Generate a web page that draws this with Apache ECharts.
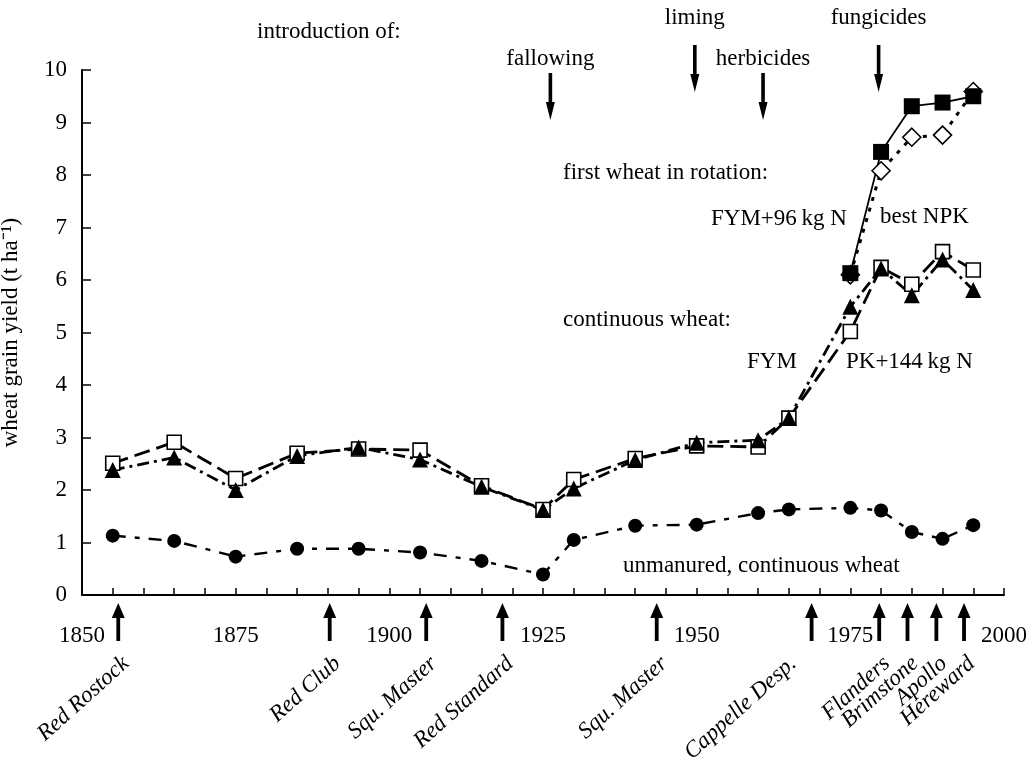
<!DOCTYPE html>
<html>
<head>
<meta charset="utf-8">
<script src="https://cdn.jsdelivr.net/npm/echarts@6/dist/echarts.min.js"></script>
<style>
  html, body { margin: 0; padding: 0; background: #fff; }
  #chart { width: 1031px; height: 764px; }
</style>
</head>
<body>
<div id="chart"></div>
<script>
// Broadbalk wheat yields — decade means
const years = [1855, 1865, 1875, 1885, 1895, 1905, 1915, 1925, 1930, 1940, 1950, 1960, 1965, 1975, 1980, 1985, 1990, 1995];
const unmanured = [1.13, 1.03, 0.73, 0.88, 0.88, 0.81, 0.65, 0.39, 1.05, 1.32, 1.34, 1.56, 1.63, 1.66, 1.61, 1.20, 1.07, 1.33];
const fymContinuous = [2.51, 2.91, 2.22, 2.70, 2.78, 2.76, 2.08, 1.63, 2.20, 2.60, 2.84, 2.82, 3.37, 5.02, 6.24, 5.92, 6.54, 6.19];
const pk144Continuous = [2.38, 2.62, 2.00, 2.65, 2.81, 2.58, 2.06, 1.62, 2.03, 2.57, 2.90, 2.95, 3.37, 5.49, 6.22, 5.71, 6.39, 5.81];

const rotationYears = [1975, 1980, 1985, 1990, 1995];
const fym96Rotation = [6.13, 8.44, 9.31, 9.38, 9.50];
const bestNpkRotation = [6.10, 8.08, 8.72, 8.76, 9.59];

// introductions (top) and varieties (bottom)
const practiceYears = [1926.2, 1949.7, 1960.8, 1979.6];
const practiceNames = ["fallowing", "liming", "herbicides", "fungicides"];
const varietyYears = [1855.9, 1890.3, 1906, 1918.4, 1943.5, 1968.7, 1979.7, 1984.3, 1989, 1993.5];
const varietyNames = ["Red Rostock", "Red Club", "Squ. Master", "Red Standard", "Squ. Master", "Cappelle Desp.", "Flanders", "Brimstone", "Apollo", "Hereward"];

const yTicks = [0, 1, 2, 3, 4, 5, 6, 7, 8, 9, 10];
const xLabelYears = [1850, 1875, 1900, 1925, 1950, 1975, 2000];

const FONT = '"Liberation Serif", "Times New Roman", serif';
const FS = 23;
const pair = (xs, ys) => xs.map((x, i) => [x, ys[i]]);

const chart = echarts.init(document.getElementById("chart"), null, { renderer: "canvas" });

// filled arrow, tip at (x, tip), tail at (x, tail)
function arrow(x, tail, tip, headW, headH, shaft) {
  const d = tip > tail ? 1 : -1;
  const base = tip - d * headH;
  return {
    type: "polygon",
    shape: { points: [[x, tip], [x + headW / 2, base], [x + shaft / 2, base], [x + shaft / 2, tail], [x - shaft / 2, tail], [x - shaft / 2, base], [x - headW / 2, base]] },
    style: { fill: "#000" }
  };
}

function label(text, x, y) {
  return { type: "text", x: x, y: y, style: { text: text, font: FS + "px " + FONT, fill: "#000", align: "left", verticalAlign: "middle" } };
}

const option = {
  animation: false,
  backgroundColor: "#fff",
  textStyle: { fontFamily: FONT, color: "#000" },
  grid: { left: 82, right: 27, top: 70, bottom: 169, outerBoundsMode: "none", containLabel: false },
  xAxis: {
    type: "value",
    min: 1850, max: 2000, interval: 5,
    axisLine: { lineStyle: { color: "#000", width: 2 } },
    axisTick: { inside: true, length: 7, lineStyle: { color: "#000", width: 1.5 } },
    splitLine: { show: false },
    axisLabel: {
      fontFamily: FONT, fontSize: FS, color: "#000", margin: 29,
      formatter: (v) => (xLabelYears.includes(v) ? String(v) : "")
    }
  },
  yAxis: {
    type: "value",
    min: yTicks[0], max: yTicks[yTicks.length - 1], interval: 1,
    name: "wheat grain yield (t ha\u207B\u00B9)",
    nameLocation: "middle", nameRotate: 90, nameGap: 60,
    nameTextStyle: { fontFamily: FONT, fontSize: 23, color: "#000" },
    axisLine: { show: true, lineStyle: { color: "#000", width: 2 } },
    axisTick: { show: true, inside: true, length: 9, lineStyle: { color: "#000", width: 1.5 } },
    splitLine: { show: false },
    axisLabel: { fontFamily: FONT, fontSize: FS, color: "#000", margin: 15 }
  },
  series: [
    {
      name: "unmanured", type: "line", data: pair(years, unmanured),
      symbol: "circle", symbolSize: 14,
      itemStyle: { color: "#000" },
      lineStyle: { color: "#000", width: 2.4, type: [13, 9, 5, 9] }
    },
    {
      name: "FYM", type: "line", data: pair(years, fymContinuous),
      symbol: "rect", symbolSize: 14,
      itemStyle: { color: "#fff", borderColor: "#000", borderWidth: 1.6 },
      lineStyle: { color: "#000", width: 2.8, type: [16, 7] }
    },
    {
      name: "PK+144 kg N", type: "line", data: pair(years, pk144Continuous),
      symbol: "triangle", symbolSize: 16,
      itemStyle: { color: "#000" },
      lineStyle: { color: "#000", width: 2.8, type: [12, 5, 3, 5] }
    },
    {
      name: "best NPK", type: "line", data: pair(rotationYears, bestNpkRotation),
      symbol: "diamond", symbolSize: 18,
      itemStyle: { color: "#fff", borderColor: "#000", borderWidth: 1.6 },
      lineStyle: { color: "#000", width: 3, type: [4, 7] }
    },
    {
      name: "FYM+96 kg N", type: "line", data: pair(rotationYears, fym96Rotation),
      symbol: "rect", symbolSize: 16,
      itemStyle: { color: "#000" },
      lineStyle: { color: "#000", width: 1.8, type: "solid" }
    },
    {
      name: "practices", type: "custom", silent: true, clip: false,
      data: practiceYears.map((y, i) => [y, i]),
      renderItem: (params, api) => {
        const i = params.dataIndex;
        const x = api.coord([api.value(0), 10])[0];
        const top = api.coord([1850, 10])[1];
        const high = i % 2 === 1;
        const tail = high ? top - 25 : top + 3;
        const tip = high ? top + 22 : top + 50;
        const labelY = high ? top - 52 : top - 11;
        return {
          type: "group",
          children: [
            arrow(x, tail, tip, 9, 18, 3.6),
            { type: "text", x: x, y: labelY, style: { text: practiceNames[i], font: FS + "px " + FONT, fill: "#000", align: "center", verticalAlign: "middle" } }
          ]
        };
      }
    },
    {
      name: "varieties", type: "custom", silent: true, clip: false,
      data: varietyYears.map((y, i) => [y, i]),
      renderItem: (params, api) => {
        const i = params.dataIndex;
        const x = api.coord([api.value(0), 0])[0];
        const axisY = api.coord([1850, 0])[1];
        const shift = varietyNames[i] === "Cappelle Desp." ? -26 : 0;
        return {
          type: "group",
          children: [
            arrow(x, axisY + 46, axisY + 8, 13, 15, 3.8),
            {
              type: "text", x: x + shift, y: axisY + 57, rotation: 42 * Math.PI / 180,
              style: { text: varietyNames[i], font: "italic " + FS + "px " + FONT, fill: "#000", align: "right", verticalAlign: "top" }
            }
          ]
        };
      }
    }
  ],
  graphic: [
    label("introduction of:", 257, 32),
    label("first wheat in rotation:", 563, 173),
    label("FYM+96\u2009kg N", 711, 219),
    label("best NPK", 880, 217),
    label("continuous wheat:", 563, 320),
    label("FYM", 747, 362),
    label("PK+144\u2009kg N", 846, 362),
    label("unmanured, continuous wheat", 623, 566)
  ]
};

chart.setOption(option);
</script>
</body>
</html>
